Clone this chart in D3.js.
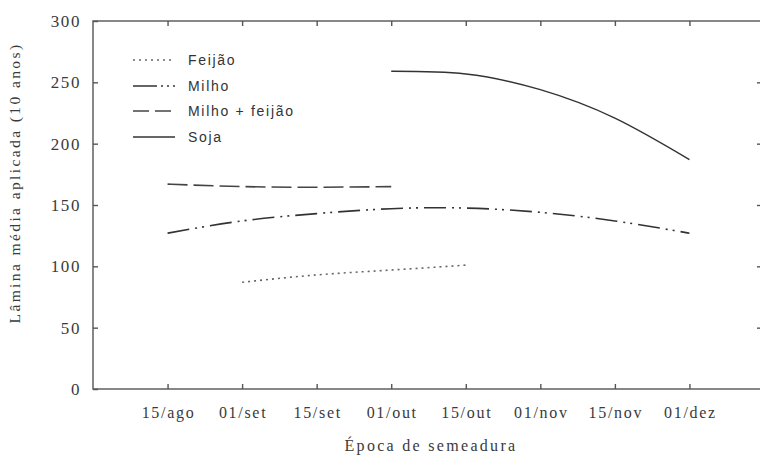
<!DOCTYPE html>
<html><head><meta charset="utf-8">
<script src="https://cdn.jsdelivr.net/npm/d3@7"></script>
<style>
html,body{margin:0;padding:0;background:#fff;}
svg{display:block;}
.serif{font-family:"Liberation Serif","Times New Roman",serif;fill:#3a3a3a;}
.sans{font-family:"Liberation Sans",Arial,sans-serif;fill:#333;}
</style></head>
<body>
<svg id="c" width="760" height="457"></svg>
<script>
const categories = ["", "15/ago", "01/set", "15/set", "01/out", "15/out", "01/nov", "15/nov", "01/dez", ""];
const yTicks = [0, 50, 100, 150, 200, 250, 300];
const feijaoX = [2, 3, 4, 5];
const feijaoY = [87, 93, 97, 101];
const milhoX = [1, 2, 3, 4, 5, 6, 7, 8];
const milhoY = [127, 137, 143, 147, 147.5, 144, 137, 127];
const mfX = [1, 2, 3, 4];
const mfY = [167, 165, 164.5, 165];
const sojaX = [4, 5, 6, 7, 8];
const sojaY = [259, 256.8, 244, 220.8, 187];
const seriesNames = ["Feijão", "Milho", "Milho + feijão", "Soja"];

const svg = d3.select("#c");
const pL = 93, pR = 764, pT = 21, pB = 389;
const x = d3.scaleLinear().domain([0, 9]).range([pL, pR]);
const y = d3.scaleLinear().domain([0, 300]).range([pB, pT]);
const axisColor = "#555";

// frame
svg.append("rect").attr("x", pL).attr("y", pT).attr("width", pR - pL).attr("height", pB - pT)
  .attr("fill", "none").attr("stroke", axisColor).attr("stroke-width", 1.4);

// bottom ticks (inward)
const bx = svg.append("g").attr("transform", `translate(0,${pB})`)
  .call(d3.axisBottom(x).tickValues(d3.range(1, 9)).tickSizeInner(-5).tickSizeOuter(0).tickFormat(""));
bx.select(".domain").remove();
bx.selectAll("line").attr("stroke", axisColor).attr("stroke-width", 1.4);
svg.append("g").selectAll("text").data(d3.range(1, 9)).join("text")
  .attr("class", "serif").attr("x", d => x(d) + 1).attr("y", 418)
  .attr("text-anchor", "middle").attr("font-size", 16).attr("letter-spacing", 1.7)
  .text(d => categories[d]);

// top ticks
const tx = svg.append("g").attr("transform", `translate(0,${pT})`)
  .call(d3.axisTop(x).tickValues(d3.range(1, 9)).tickSizeInner(-5).tickSizeOuter(0).tickFormat(""));
tx.select(".domain").remove();
tx.selectAll("line").attr("stroke", axisColor).attr("stroke-width", 1.4);

// left axis
const ly = svg.append("g").attr("transform", `translate(${pL},0)`)
  .call(d3.axisLeft(y).tickValues(yTicks).tickSizeInner(-5).tickSizeOuter(0).tickFormat(""));
ly.select(".domain").remove();
ly.selectAll("line").attr("stroke", axisColor).attr("stroke-width", 1.4);
svg.append("g").selectAll("text").data(yTicks).join("text")
  .attr("class", "serif").attr("x", 81).attr("y", d => y(d) + 6)
  .attr("text-anchor", "end").attr("font-size", 17).attr("letter-spacing", 1.6)
  .text(d => d);

// right axis ticks
const ry = svg.append("g").attr("transform", `translate(${pR},0)`)
  .call(d3.axisRight(y).tickValues(yTicks.slice(1, -1)).tickSizeInner(-7).tickSizeOuter(0).tickFormat(""));
ry.select(".domain").remove();
ry.selectAll("line").attr("stroke", axisColor).attr("stroke-width", 1.4);

// axis titles
svg.append("text").attr("class", "serif").attr("x", 431).attr("y", 451)
  .attr("text-anchor", "middle").attr("font-size", 16).attr("letter-spacing", 2.3)
  .text("Época de semeadura");
svg.append("text").attr("class", "serif")
  .attr("transform", "translate(20,183) rotate(-90)")
  .attr("text-anchor", "middle").attr("font-size", 15.5).attr("letter-spacing", 2.4)
  .text("Lâmina média aplicada (10 anos)");

// lines
const line = d3.line().x(d => x(d[0])).y(d => y(d[1])).curve(d3.curveNatural);
const styles = [
  {xs: feijaoX, ys: feijaoY, dash: "2,4", color: "#666", w: 1.6},
  {xs: milhoX, ys: milhoY, dash: "22,6,2,5,2,6", color: "#333", w: 1.6},
  {xs: mfX, ys: mfY, dash: "20,6", color: "#444", w: 1.6},
  {xs: sojaX, ys: sojaY, dash: null, color: "#333", w: 1.4}
];
styles.forEach(s => {
  svg.append("path").datum(s.xs.map((v, i) => [v, s.ys[i]]))
    .attr("d", line).attr("fill", "none").attr("stroke", s.color)
    .attr("stroke-width", s.w).attr("stroke-dasharray", s.dash);
});

// legend
const legY = [60, 86, 111, 137];
const legDash = ["2,4", "24,4,2,4,2,4", "16,6", null];
seriesNames.forEach((n, i) => {
  svg.append("line").attr("x1", 133).attr("x2", 175).attr("y1", legY[i]).attr("y2", legY[i])
    .attr("stroke", styles[i].color).attr("stroke-width", 1.5).attr("stroke-dasharray", legDash[i]);
  svg.append("text").attr("class", "sans").attr("x", 188).attr("y", legY[i] + 5)
    .attr("font-size", 14).attr("letter-spacing", 1.7).text(n);
});
</script>
</body></html>
